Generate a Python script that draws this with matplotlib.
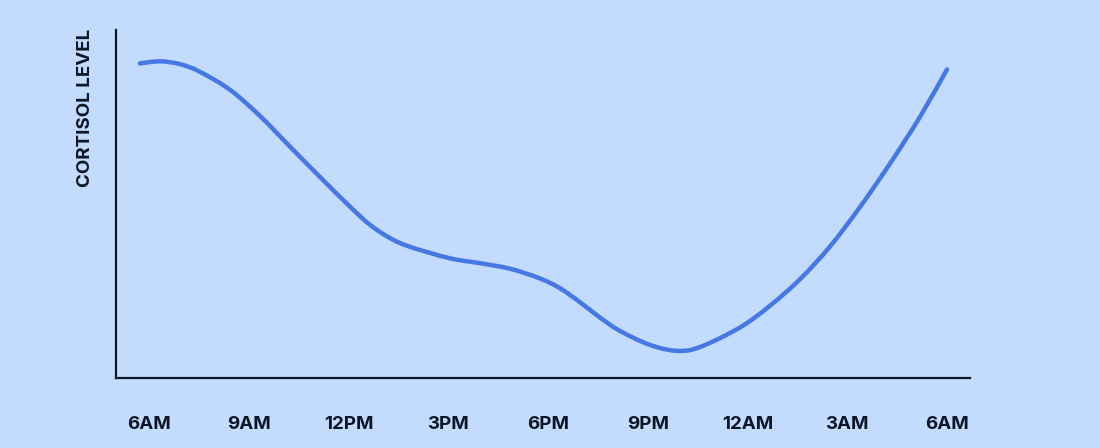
import matplotlib
matplotlib.use("Agg")
import matplotlib.pyplot as plt
from matplotlib.path import Path
from matplotlib.patches import PathPatch

# Hours after 6AM and relative cortisol level (0-100)
hours = [-0.27, 0.33, 0.93, 1.53, 2.44, 3.34, 4.24, 5.14, 6.05, 6.65, 7.25, 7.85,
         9.05, 9.95, 10.86, 11.76, 12.36, 12.96, 13.56, 14.17, 15.07, 15.88,
         16.57, 17.77, 18.68, 19.58, 20.48, 21.38, 22.29, 23.19, 24.0]
level = [90.4, 91.0, 90.2, 88.0, 82.8, 75.3, 66.5, 57.8, 49.2, 44.0, 40.2, 37.7,
         34.4, 33.0, 31.4, 28.6, 25.8, 21.8, 17.4, 13.5, 9.5, 7.8,
         8.9, 14.5, 20.8, 28.4, 37.8, 49.1, 61.7, 75.1, 88.7]

tick_hours = [0, 3, 6, 9, 12, 15, 18, 21, 24]
tick_labels = ["6AM", "9AM", "12PM", "3PM", "6PM", "9PM", "12AM", "3AM", "6AM"]

bg = "#c3dcfd"
ink = "#0d1626"
line_color = "#4678e3"

plt.rcParams["font.family"] = ["Inter", "DejaVu Sans"]


def smooth_path(xs, ys):
    # Catmull-Rom through the points, drawn as cubic Bezier segments
    pts = list(zip(xs, ys))
    verts = [pts[0]]
    codes = [Path.MOVETO]
    for i in range(len(pts) - 1):
        p0 = pts[i - 1] if i > 0 else pts[i]
        p1 = pts[i]
        p2 = pts[i + 1]
        p3 = pts[i + 2] if i + 2 < len(pts) else pts[i + 1]
        c1 = (p1[0] + (p2[0] - p0[0]) / 6, p1[1] + (p2[1] - p0[1]) / 6)
        c2 = (p2[0] - (p3[0] - p1[0]) / 6, p2[1] - (p3[1] - p1[1]) / 6)
        verts += [c1, c2, p2]
        codes += [Path.CURVE4] * 3
    return Path(verts, codes)


fig = plt.figure(figsize=(11, 4.48), dpi=100, facecolor=bg)
ax = fig.add_axes([116 / 1100, 70 / 448, 854 / 1100, 348 / 448])
ax.set_facecolor(bg)

curve = PathPatch(smooth_path(hours, level), facecolor="none", edgecolor=line_color,
                  linewidth=3.2, capstyle="round", joinstyle="round")
ax.add_patch(curve)

ax.set_xlim(-0.99, 24.69)
ax.set_ylim(0, 100)

for side in ["top", "right"]:
    ax.spines[side].set_visible(False)
for side in ["left", "bottom"]:
    ax.spines[side].set_color(ink)
    ax.spines[side].set_linewidth(1.6)

ax.set_xticks(tick_hours)
ax.set_xticklabels(tick_labels, fontsize=13.5, fontweight="bold", color=ink)
ax.tick_params(axis="x", length=0, pad=27)
ax.set_yticks([])

fig.text(85 / 1100, 1 - 29 / 448, "CORTISOL LEVEL", rotation=90,
         ha="center", va="top", fontsize=13.5, fontweight="bold", color=ink)

fig.savefig("out.png", dpi=100, facecolor=bg)
